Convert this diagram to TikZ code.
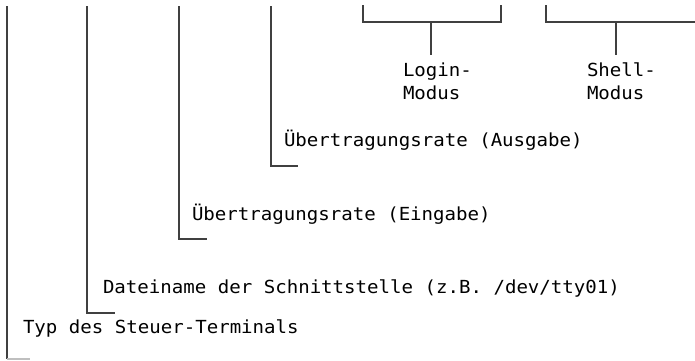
\documentclass[tikz,border=0pt]{standalone}
\usepackage{fontspec}
\newfontfamily\monofam[FakeStretch=1.06]{DejaVu Sans Mono}
\tikzset{
  lbl/.style={anchor=base west, inner sep=0pt, outer sep=0pt, font=\monofam\fontsize{18}{23}\selectfont, text=black},
  lead/.style={draw=black!75, line width=1.2pt},
}
\begin{document}
\begin{tikzpicture}[x=1pt,y=-1pt]
\useasboundingbox (0,0) rectangle (695,360);
% texts
\node[lbl] (ausg) at (284,146) {Übertragungsrate (Ausgabe)};
\node[lbl] (eing) at (192,220) {Übertragungsrate (Eingabe)};
\node[lbl] (datei) at (103,293) {Dateiname der Schnittstelle (z.B. /dev/tty01)};
\node[lbl] (typ) at (23,333) {Typ des Steuer-Terminals};
\node[lbl, align=left, anchor=north west] (login) at (403,63) {Login-\\Modus};
\node[lbl, align=left, anchor=north west] (shell) at (587,63) {Shell-\\Modus};
% leader coordinates
\coordinate (t1) at (7,6);   \coordinate (b1) at (7,359);  \coordinate (e1) at (30,359);
\coordinate (t2) at (87,6);  \coordinate (b2) at (87,313); \coordinate (e2) at (115,313);
\coordinate (t3) at (179,6); \coordinate (b3) at (179,239); \coordinate (e3) at (207,239);
\coordinate (t4) at (271,6); \coordinate (b4) at (271,166); \coordinate (e4) at (298,166);
\draw[lead] (t1) -- (b1);
\draw[lead, draw=black!25] (b1) -- (e1);
\draw[lead] (t2) -- (b2) -- (e2);
\draw[lead] (t3) -- (b3) -- (e3);
\draw[lead] (t4) -- (b4) -- (e4);
% brackets
\coordinate (la) at (363,5); \coordinate (lb) at (501,5);
\coordinate (lm) at (431,22); \coordinate (lt) at (431,55);
\draw[lead] (la) |- (lm) -| (lb);
\draw[lead] (lm) -- (lt);
\coordinate (sa) at (546,5); \coordinate (sb) at (695,22);
\coordinate (sm) at (616,22); \coordinate (st) at (616,55);
\draw[lead] (sa) |- (sb);
\draw[lead] (sm) -- (st);
\end{tikzpicture}
\end{document}
